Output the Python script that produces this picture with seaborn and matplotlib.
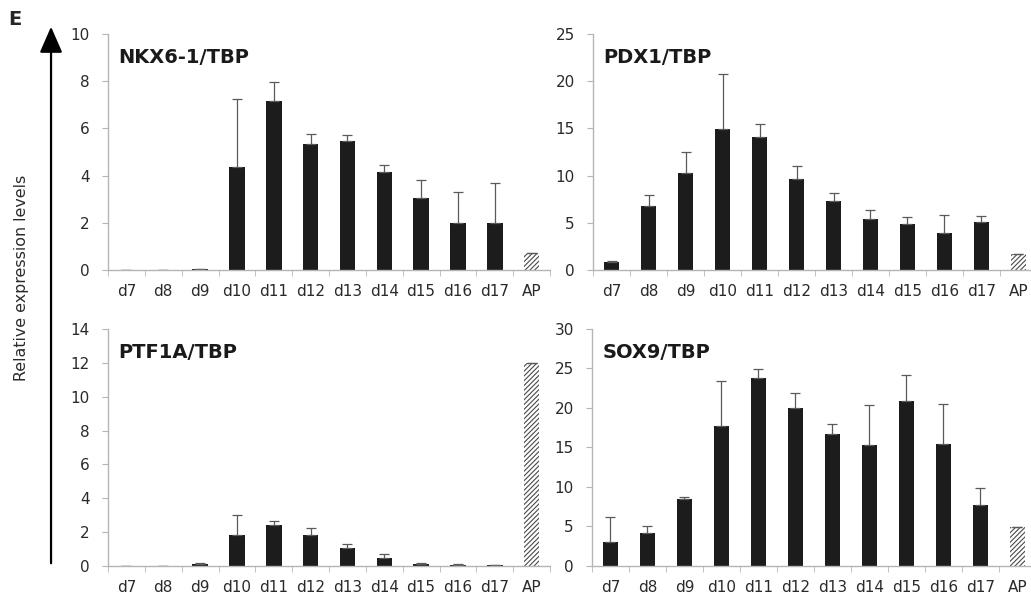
import matplotlib
matplotlib.use("Agg")
import matplotlib.pyplot as plt
import numpy as np
import pandas as pd
import seaborn as sns


sns.set_style("white")
plt.rcParams["font.family"] = ["DejaVu Sans"]
plt.rcParams["hatch.linewidth"] = 0.8

DAYS = ["d7", "d8", "d9", "d10", "d11", "d12", "d13", "d14", "d15", "d16", "d17", "AP"]

# mean and upper error (sd) per gene
NKX6_MEAN = [0.01, 0.01, 0.03, 4.38, 7.16, 5.35, 5.45, 4.14, 3.05, 2.0, 2.0, 0.72]
NKX6_SD = [0.0, 0.0, 0.0, 2.87, 0.81, 0.40, 0.27, 0.31, 0.78, 1.30, 1.70, 0.0]

PDX1_MEAN = [0.81, 6.81, 10.29, 14.89, 14.08, 9.62, 7.27, 5.41, 4.92, 3.93, 5.09, 1.69]
PDX1_SD = [0.17, 1.16, 2.17, 5.86, 1.44, 1.37, 0.88, 0.95, 0.73, 1.93, 0.60, 0.0]

PTF1A_MEAN = [0.02, 0.02, 0.12, 1.86, 2.45, 1.82, 1.05, 0.49, 0.14, 0.08, 0.06, 12.0]
PTF1A_SD = [0.0, 0.0, 0.08, 1.14, 0.20, 0.45, 0.25, 0.24, 0.04, 0.02, 0.01, 0.0]

SOX9_MEAN = [3.05, 4.15, 8.46, 17.73, 23.83, 20.06, 16.76, 15.32, 20.86, 15.40, 7.74, 4.99]
SOX9_SD = [3.17, 0.97, 0.26, 5.67, 1.14, 1.82, 1.27, 5.12, 3.30, 5.08, 2.16, 0.0]

PANELS = [
    ("NKX6-1/TBP", NKX6_MEAN, NKX6_SD, 10, 2, [0.1048, 0.5492, 0.4287, 0.394]),
    ("PDX1/TBP", PDX1_MEAN, PDX1_SD, 25, 5, [0.5752, 0.5492, 0.4306, 0.394]),
    ("PTF1A/TBP", PTF1A_MEAN, PTF1A_SD, 14, 2, [0.1048, 0.0551, 0.4287, 0.3957]),
    ("SOX9/TBP", SOX9_MEAN, SOX9_SD, 30, 5, [0.5742, 0.0551, 0.4306, 0.3957]),
]

BAR_COLOR = "#1c1c1c"
AXIS_COLOR = "#b5b5b5"
TEXT_COLOR = "#2a2a2a"


def draw_panel(fig, title, mean, sd, ymax, ystep, rect):
    ax = fig.add_axes(rect)
    df = pd.DataFrame({"day": DAYS, "value": mean})
    sns.barplot(data=df, x="day", y="value", color=BAR_COLOR, saturation=1,
                width=0.42, linewidth=0, ax=ax)

    # reference sample (AP) is hatched
    ap = ax.patches[-1]
    ap.set_facecolor("white")
    ap.set_hatch("///////")
    ap.set_edgecolor("#4a4a4a")
    ap.set_linewidth(0)

    pos = np.arange(len(DAYS))
    ax.errorbar(pos, mean, yerr=[np.zeros(len(sd)), sd], fmt="none",
                ecolor="#5a5a5a", elinewidth=0.9, capsize=3.5, capthick=0.9)

    ax.set_xlim(-0.5, len(DAYS) - 0.5)
    ax.set_ylim(0, ymax)
    ax.set_yticks(np.arange(0, ymax + 0.1, ystep))
    ax.set_xticks(np.arange(-0.5, len(DAYS)), minor=True)
    ax.set_xlabel("")
    ax.set_ylabel("")

    for side in ["top", "right"]:
        ax.spines[side].set_visible(False)
    for side in ["left", "bottom"]:
        ax.spines[side].set_color(AXIS_COLOR)
        ax.spines[side].set_linewidth(1.0)

    ax.tick_params(axis="x", which="major", length=0, pad=10, labelsize=11,
                   labelcolor=TEXT_COLOR)
    ax.tick_params(axis="x", which="minor", length=4, color=AXIS_COLOR,
                   direction="out", bottom=True)
    ax.tick_params(axis="y", length=4, color=AXIS_COLOR, direction="out", left=True,
                   pad=9, labelsize=11, labelcolor=TEXT_COLOR)

    ax.text(0.023, 0.877, title, transform=ax.transAxes, fontsize=14,
            fontweight="bold", color="#1a1a1a", va="baseline", ha="left")
    return ax


fig = plt.figure(figsize=(10.31, 5.99), dpi=100)

for title, mean, sd, ymax, ystep, rect in PANELS:
    draw_panel(fig, title, mean, sd, ymax, ystep, rect)

fig.text(0.0078, 0.958, "E", fontsize=14, fontweight="bold", va="baseline", ha="left")
fig.text(0.0213, 0.536, "Relative expression levels", rotation=90, fontsize=11.4,
         color=TEXT_COLOR, va="center", ha="center")
fig.add_artist(matplotlib.patches.FancyArrowPatch(
    (0.0495, 0.055), (0.0495, 0.96), transform=fig.transFigure,
    arrowstyle="-|>,head_length=0.8,head_width=0.35", mutation_scale=20,
    color="black", linewidth=1.6))

fig.savefig("out.png", dpi=100)
plt.close(fig)
